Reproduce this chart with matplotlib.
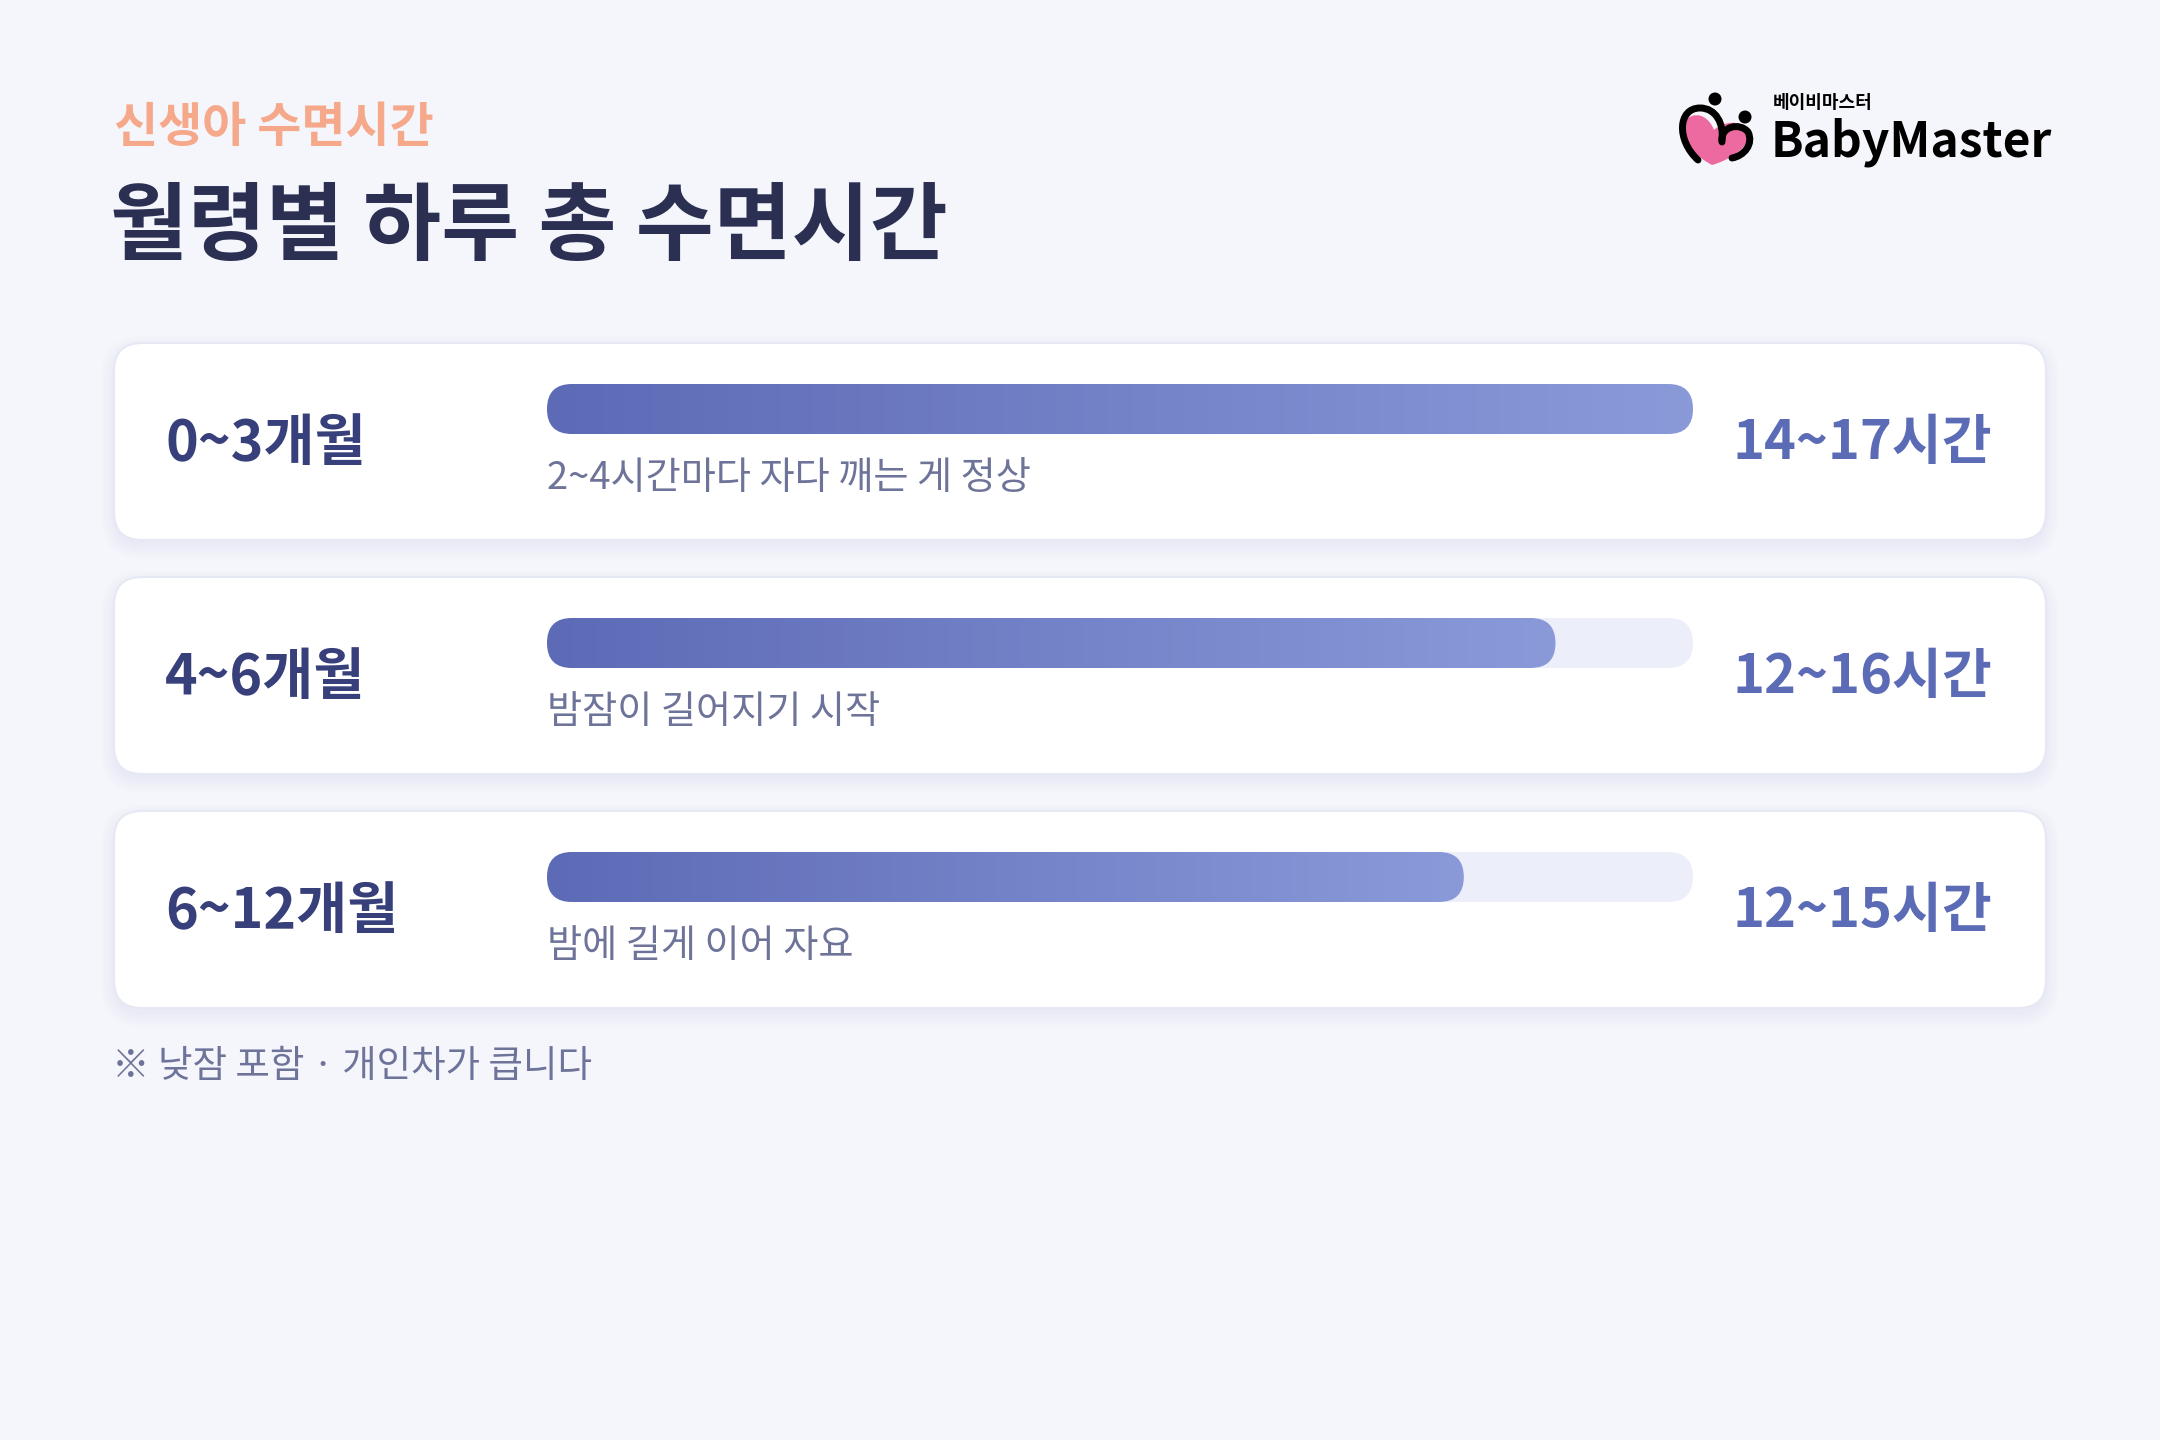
import numpy as np
import matplotlib
matplotlib.use("Agg")
import matplotlib.pyplot as plt
from matplotlib.patches import FancyBboxPatch, Circle, PathPatch
from matplotlib.path import Path
from matplotlib.colors import LinearSegmentedColormap

plt.rcParams['font.family'] = ['Noto Sans CJK KR', 'DejaVu Sans']

# data
ages = ["0~3개월", "4~6개월", "6~12개월"]
hours = ["14~17시간", "12~16시간", "12~15시간"]
notes = ["2~4시간마다 자다 깨는 게 정상", "밤잠이 길어지기 시작", "밤에 길게 이어 자요"]
fill_pct = [100, 88, 80]

kicker = "신생아 수면시간"
title = "월령별 하루 총 수면시간"
footnote = "※ 낮잠 포함 · 개인차가 큽니다"

# colours
BG = "#F5F6FB"
NAVY = "#2B2F52"
LABEL = "#37407A"
VALUE = "#5B6BB5"
MUTED = "#6E7399"
ORANGE = "#F5A98A"
TRACK = "#ECEEF9"
bar_cmap = LinearSegmentedColormap.from_list("bar", ["#5D6AB6", "#8A9AD9"])

W, H = 2160, 1440
fig = plt.figure(figsize=(W / 100, H / 100), dpi=100)
fig.patch.set_facecolor(BG)
ax = fig.add_axes([0, 0, 1, 1])
ax.set_xlim(0, W)
ax.set_ylim(H, 0)
ax.axis("off")

# header
ax.text(114, 128, kicker, fontsize=34.5, fontweight="bold", color=ORANGE, va="center", ha="left")
ax.text(110, 228, title, fontsize=61, fontweight="heavy", color=NAVY, va="center", ha="left")

# cards
card_x, card_w, card_h = 114, 1932, 197
card_tops = [343, 577, 811]
track_x, track_w, track_h = 547, 1146, 50

for i, top in enumerate(card_tops):
    # soft shadow
    for k in range(6):
        sh = FancyBboxPatch((card_x - k * 2.5, top + 6 - k * 2.5), card_w + k * 5, card_h + k * 5,
                            boxstyle="round,pad=0,rounding_size=%d" % (28 + k * 2.5),
                            fc="#9AA3D0", ec="none", alpha=0.018, zorder=1)
        ax.add_patch(sh)
    card = FancyBboxPatch((card_x, top), card_w, card_h,
                          boxstyle="round,pad=0,rounding_size=28",
                          fc="white", ec="#E6E8F4", lw=1.5, zorder=2)
    ax.add_patch(card)

    ax.text(165, top + 101, ages[i], fontsize=40, fontweight="bold", color=LABEL,
            va="center", ha="left", zorder=5)
    ax.text(1992, top + 101, hours[i], fontsize=39, fontweight="bold", color=VALUE,
            va="center", ha="right", zorder=5)

    by = top + 66 - track_h / 2
    track = FancyBboxPatch((track_x, by), track_w, track_h,
                           boxstyle="round,pad=0,rounding_size=%d" % (track_h / 2),
                           fc=TRACK, ec="none", zorder=3)
    ax.add_patch(track)
    bw = track_w * fill_pct[i] / 100
    bar = FancyBboxPatch((track_x, by), bw, track_h,
                         boxstyle="round,pad=0,rounding_size=%d" % (track_h / 2),
                         fc="none", ec="none", zorder=4)
    ax.add_patch(bar)
    grad = np.linspace(0, 1, 256).reshape(1, -1)
    im = ax.imshow(grad, cmap=bar_cmap, extent=(track_x, track_x + bw, by + track_h, by),
                   aspect="auto", zorder=4, interpolation="bicubic")
    im.set_clip_path(bar)

    ax.text(track_x, top + 135, notes[i], fontsize=27.5, color=MUTED,
            va="center", ha="left", zorder=5)

ax.text(112, 1067, footnote, fontsize=27, color=MUTED, va="center", ha="left")

# logo
heart = Path([(1712, 165), (1680, 148), (1676, 122), (1692, 116), (1704, 112), (1712, 124), (1714, 130),
              (1722, 122), (1742, 118), (1748, 132), (1752, 146), (1730, 160), (1712, 165)],
             [Path.MOVETO, Path.CURVE4, Path.CURVE4, Path.CURVE4, Path.CURVE4, Path.CURVE4, Path.CURVE4,
              Path.CURVE4, Path.CURVE4, Path.CURVE4, Path.CURVE4, Path.CURVE4, Path.CURVE4])
ax.add_patch(PathPatch(heart, fc="#EC6AA0", ec="none", zorder=5))
arc1 = Path([(1698, 160), (1676, 140), (1678, 108), (1700, 108), (1716, 108), (1724, 124), (1722, 140)],
            [Path.MOVETO, Path.CURVE4, Path.CURVE4, Path.CURVE4, Path.CURVE4, Path.CURVE4, Path.CURVE4])
ax.add_patch(PathPatch(arc1, fc="none", ec="black", lw=5, capstyle="round", zorder=6))
arc2 = Path([(1722, 142), (1720, 126), (1740, 122), (1748, 132), (1754, 144), (1744, 156), (1732, 158)],
            [Path.MOVETO, Path.CURVE4, Path.CURVE4, Path.CURVE4, Path.CURVE4, Path.CURVE4, Path.CURVE4])
ax.add_patch(PathPatch(arc2, fc="none", ec="black", lw=5, capstyle="round", zorder=6))
ax.add_patch(Circle((1715, 99), 6.5, fc="black", ec="none", zorder=6))
ax.add_patch(Circle((1745, 117), 6.5, fc="black", ec="none", zorder=6))
ax.text(1773, 103, "베이비마스터", fontsize=13, fontweight="bold", color="black", va="center", ha="left")
ax.text(1771, 142, "BabyMaster", fontsize=34.5, fontweight="heavy", color="black", va="center", ha="left")

fig.savefig("out.png", dpi=100, facecolor=BG)
